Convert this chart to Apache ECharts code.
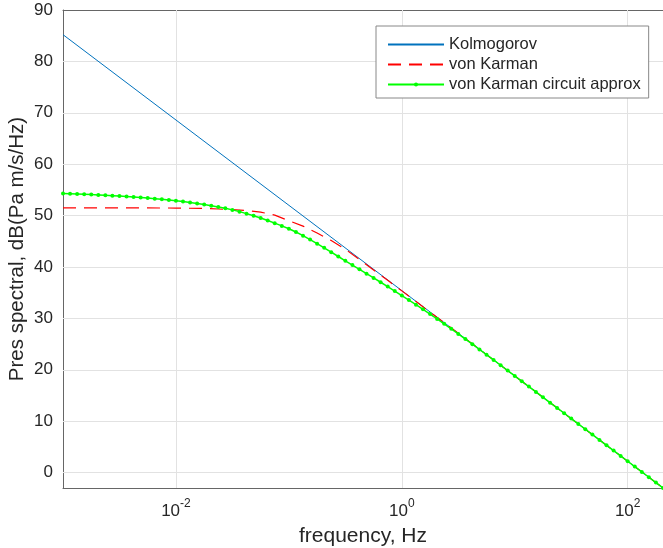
<!DOCTYPE html>
<html>
<head>
<meta charset="utf-8">
<script src="https://cdn.jsdelivr.net/npm/echarts@6/dist/echarts.min.js"></script>
<style>
html,body{margin:0;padding:0;background:#fff;}
#chart{width:663px;height:548px;}
</style>
</head>
<body>
<div id="chart"></div>
<script>
// ---- data ----
const seriesNames = ['Kolmogorov', 'von Karman', 'von Karman circuit approx'];

// Kolmogorov (straight line in log-frequency)
const kolFreq = [0.001, 205.4];
const kolValues = [85.2, -2.99];

// von Karman
const vkFreq = [0.001, 0.003162, 0.01, 0.01778, 0.02371, 0.03162, 0.04217, 0.05623, 0.07499,
  0.1, 0.1334, 0.1778, 0.2371, 0.3162, 0.4217, 0.5623, 0.7499, 1, 1.778, 3.162, 10, 31.62, 100, 205.4];
const vkValues = [51.5, 51.5, 51.47, 51.38, 51.28, 51.15, 50.97, 50.68, 50.1,
  49.0, 47.95, 46.6, 45.15, 43.45, 41.45, 39.42, 37.4, 35.35, 31.23, 27.1, 18.8, 10.5, 2.2, -2.99];

// von Karman circuit approx (sampled points, drawn with dots)
const circFreq = [
  0.001, 0.001155, 0.001334, 0.00154, 0.001778, 0.002054, 0.002371, 0.002738, 0.003162, 0.003652, 0.004217, 0.00487, 0.005623, 0.006494, 0.007499, 0.00866,
  0.01, 0.01155, 0.01334, 0.0154, 0.01778, 0.02054, 0.02371, 0.02738, 0.03162, 0.03652, 0.04217, 0.0487, 0.05623, 0.06494, 0.07499, 0.0866,
  0.1, 0.1155, 0.1334, 0.154, 0.1778, 0.2054, 0.2371, 0.2738, 0.3162, 0.3652, 0.4217, 0.487, 0.5623, 0.6494, 0.7499, 0.866,
  1, 1.155, 1.334, 1.54, 1.778, 2.054, 2.371, 2.738, 3.162, 3.652, 4.217, 4.87, 5.623, 6.494, 7.499, 8.66,
  10, 11.55, 13.34, 15.4, 17.78, 20.54, 23.71, 27.38, 31.62, 36.52, 42.17, 48.7, 56.23, 64.94, 74.99, 86.6,
  100, 115.5, 133.4, 154, 177.8, 205.4];
const circValues = [
  54.30, 54.25, 54.20, 54.14, 54.08, 54.02, 53.95, 53.87, 53.79, 53.71, 53.61, 53.51, 53.41, 53.29, 53.17, 53.03,
  52.88, 52.73, 52.55, 52.36, 52.15, 51.93, 51.68, 51.41, 51.11, 50.77, 50.38, 49.97, 49.52, 49.03, 48.53, 47.99,
  47.43, 46.80, 46.10, 45.33, 44.53, 43.72, 42.88, 42.04, 41.20, 40.37, 39.54, 38.70, 37.87, 37.03, 36.18, 35.32,
  34.45, 33.56, 32.67, 31.76, 30.83, 29.89, 28.94, 27.97, 26.98, 25.98, 24.98, 23.96, 22.93, 21.91, 20.88, 19.84,
  18.80, 17.76, 16.73, 15.69, 14.65, 13.61, 12.58, 11.54, 10.50, 9.46, 8.43, 7.39, 6.35, 5.31, 4.28, 3.24,
  2.20, 1.16, 0.13, -0.91, -1.95, -2.99];

// ticks
const xTicks = [0.01, 1, 100];
const xTickExponents = ['-2', '0', '2'];
const yTicks = [0, 10, 20, 30, 40, 50, 60, 70, 80, 90];
const yGridValues = [0, 10, 20, 30, 40, 50, 60, 70, 80];

// ---- chart ----
const FONT = '"Liberation Sans", Arial, Helvetica, sans-serif';
const AXIS_COLOR = '#666';
const TEXT_COLOR = '#262626';
const GRID_COLOR = '#e2e2e2';

function zip(xs, ys) { return xs.map((x, i) => [x, ys[i]]); }

function xLabel(v) {
  for (let i = 0; i < xTicks.length; i++) {
    if (Math.abs(Math.log10(v) - Math.log10(xTicks[i])) < 1e-6) {
      return '{b|10}{s|' + xTickExponents[i] + '}';
    }
  }
  return '';
}

const gridLines = xTicks.map(v => ({ xAxis: v })).concat(yGridValues.map(v => ({ yAxis: v })));

const axisLineStyle = { show: true, onZero: false, lineStyle: { color: AXIS_COLOR, width: 1 } };

const chart = echarts.init(document.getElementById('chart'), null, { renderer: 'canvas' });
chart.setOption({
  animation: false,
  backgroundColor: '#fff',
  textStyle: { fontFamily: FONT },
  grid: { left: 63, top: 10, right: 0, bottom: 60, containLabel: false, outerBoundsMode: 'none' },
  legend: {
    orient: 'vertical',
    left: 376, top: 26,
    padding: [10, 8, 5, 11],
    itemWidth: 56, itemHeight: 5, itemGap: 3,
    borderColor: '#888', borderWidth: 1, backgroundColor: '#fff',
    textStyle: { fontSize: 16.5, color: TEXT_COLOR, lineHeight: 14, fontFamily: FONT },
    data: [
      { name: seriesNames[0], itemStyle: { opacity: 0 } },
      { name: seriesNames[1], itemStyle: { opacity: 0 } },
      { name: seriesNames[2] }
    ]
  },
  xAxis: [
    {
      type: 'log', logBase: 10, min: 0.001, max: 205.4, position: 'bottom',
      axisLine: axisLineStyle,
      axisTick: { show: true, inside: true, length: 5, customValues: xTicks, lineStyle: { color: AXIS_COLOR } },
      minorTick: { show: false },
      splitLine: { show: false },
      axisLabel: {
        customValues: xTicks, margin: 10, color: TEXT_COLOR, formatter: xLabel,
        rich: {
          b: { fontSize: 17, lineHeight: 22, verticalAlign: 'bottom', color: TEXT_COLOR, fontFamily: FONT },
          s: { fontSize: 12, lineHeight: 22, verticalAlign: 'top', color: TEXT_COLOR, fontFamily: FONT }
        }
      },
      name: 'frequency, Hz', nameLocation: 'middle', nameGap: 38, nameMoveOverlap: false,
      nameTextStyle: { fontSize: 21, color: TEXT_COLOR, fontFamily: FONT }
    },
    {
      type: 'log', logBase: 10, min: 0.001, max: 205.4, position: 'top',
      axisLine: axisLineStyle,
      axisTick: { show: true, inside: true, length: 5, customValues: xTicks, lineStyle: { color: AXIS_COLOR } },
      minorTick: { show: false },
      splitLine: { show: false },
      axisLabel: { show: false }
    }
  ],
  yAxis: [
    {
      type: 'value', min: -3, max: 90, position: 'left',
      axisLine: axisLineStyle,
      axisTick: { show: true, inside: true, length: 5, customValues: yTicks, lineStyle: { color: AXIS_COLOR } },
      splitLine: { show: false },
      axisLabel: { customValues: yTicks, margin: 10, fontSize: 17, color: TEXT_COLOR, fontFamily: FONT },
      name: 'Pres spectral, dB(Pa m/s/Hz)', nameLocation: 'middle', nameGap: 35, nameRotate: 90,
      nameMoveOverlap: false,
      nameTextStyle: { fontSize: 20.5, color: TEXT_COLOR, fontFamily: FONT }
    },
    {
      type: 'value', min: -3, max: 90, position: 'right',
      axisLine: axisLineStyle,
      axisTick: { show: true, inside: true, length: 5, customValues: yTicks, lineStyle: { color: AXIS_COLOR } },
      splitLine: { show: false },
      axisLabel: { show: false }
    }
  ],
  series: [
    {
      name: seriesNames[0], type: 'line', xAxisIndex: 0, yAxisIndex: 0,
      data: zip(kolFreq, kolValues), symbol: 'none', z: 2,
      lineStyle: { color: '#0072BD', width: 1 }, itemStyle: { color: '#0072BD' },
      markLine: {
        silent: true, z: 1, symbol: ['none', 'none'], animation: false,
        label: { show: false },
        lineStyle: { type: 'solid', color: GRID_COLOR, width: 1 },
        emphasis: { disabled: true },
        data: gridLines
      }
    },
    {
      name: seriesNames[1], type: 'line', xAxisIndex: 0, yAxisIndex: 0,
      data: zip(vkFreq, vkValues), symbol: 'none', z: 3,
      lineStyle: { color: '#FF0000', width: 1.2, type: [13, 8] }, itemStyle: { color: '#FF0000' }
    },
    {
      name: seriesNames[2], type: 'line', xAxisIndex: 0, yAxisIndex: 0,
      data: zip(circFreq, circValues), symbol: 'circle', symbolSize: 4, showSymbol: true, z: 4,
      lineStyle: { color: '#00FF00', width: 1.5 }, itemStyle: { color: '#00FF00', borderWidth: 0 }
    }
  ]
});
</script>
</body>
</html>
